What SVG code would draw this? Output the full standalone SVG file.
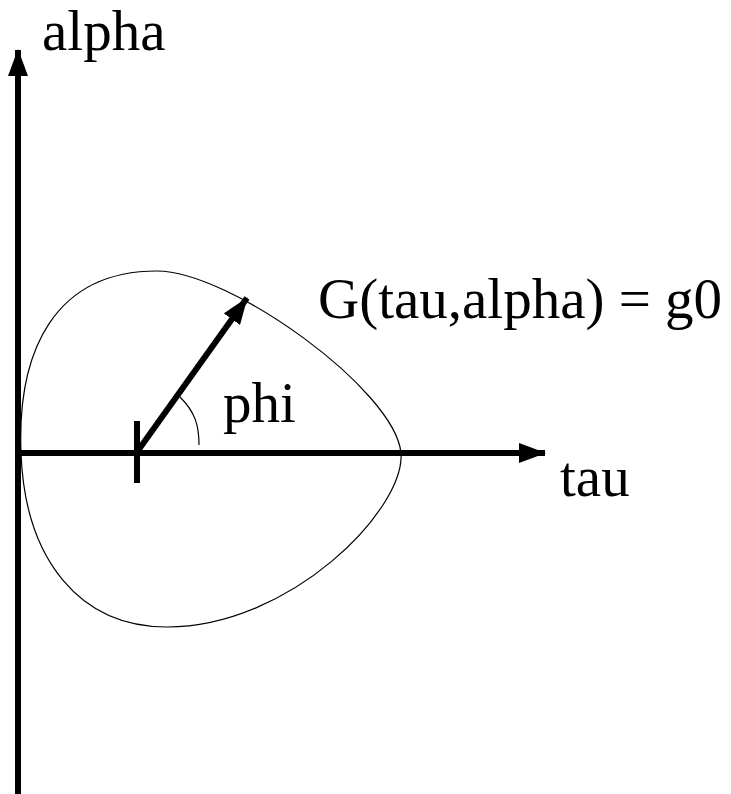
<svg xmlns="http://www.w3.org/2000/svg" width="731" height="794" viewBox="0 0 731 794">
<style>
.ax{stroke:#000;stroke-width:6;fill:none}
.thin{stroke:#000;stroke-width:1.2;fill:none}
.lbl{font-family:"Liberation Serif","Times New Roman",serif;font-size:57px;fill:#000}
</style>
<defs>
<marker id="ah" markerUnits="userSpaceOnUse" markerWidth="27" markerHeight="20" refX="26" refY="10" orient="auto" viewBox="0 0 27 20">
<path d="M0,0 L27,10 L0,20 z" fill="#000"/>
</marker>
</defs>
<rect width="731" height="794" fill="#fff"/>
<g id="curve">
<path class="thin" d="M21 453 C17 350 55 271 157 271 C230 271 395 390 401 453 C405 510 290 627 167 627 C80 627 25 560 21 453 Z"/>
</g>
<g id="connectors">
<line class="ax" x1="18" y1="794" x2="18" y2="50" marker-end="url(#ah)"/>
<line class="ax" x1="18" y1="453" x2="545" y2="453" marker-end="url(#ah)"/>
<line class="ax" x1="137" y1="452" x2="247" y2="298" marker-end="url(#ah)"/>
<line class="ax" x1="137" y1="421" x2="137" y2="483"/>
<path class="thin" d="M180 397 C195 412 199 425 199 445"/>
</g>
<g id="labels">
<text class="lbl" x="42" y="50">alpha</text>
<text class="lbl" x="318" y="318">G(tau,alpha) = g0</text>
<text class="lbl" x="223" y="422">phi</text>
<text class="lbl" x="560" y="496">tau</text>
</g>
</svg>
